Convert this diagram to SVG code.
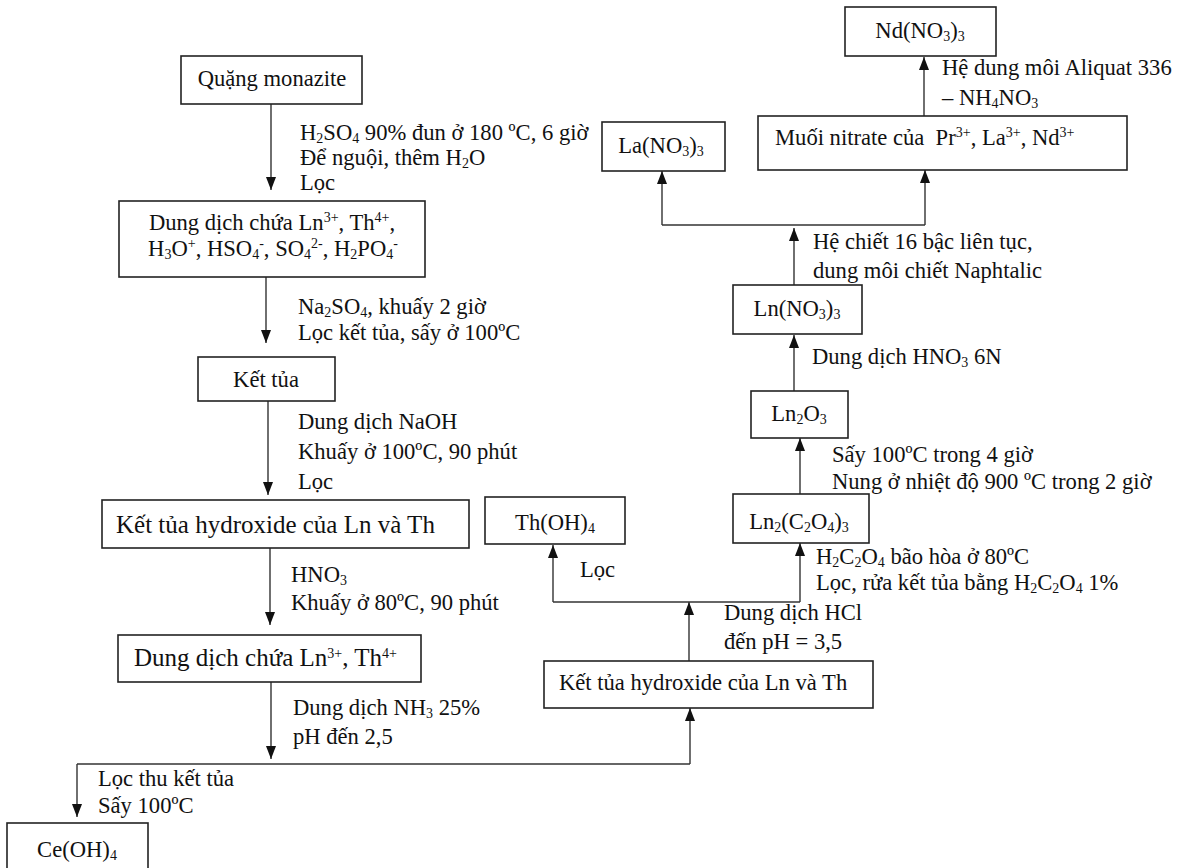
<svg xmlns="http://www.w3.org/2000/svg" width="1183" height="868" viewBox="0 0 1183 868">
<style>
text { font-family: "Liberation Serif", "Times New Roman", serif; font-size: 22.6px; fill: #111; }
.big { font-size: 25px; }
.m { text-anchor: middle; }
.sub { font-size: 14px; baseline-shift: -3px; }
.sup { font-size: 14px; baseline-shift: 8px; }
.box { fill: #fff; stroke: #222; stroke-width: 1.6; }
.ln { fill: none; stroke: #333; stroke-width: 1.4; }
.ar { fill: none; stroke: #333; stroke-width: 1.4; marker-end: url(#ah); }
</style>
<defs>
<marker id="ah" markerWidth="13" markerHeight="10" refX="13" refY="5" orient="auto" markerUnits="userSpaceOnUse">
<path d="M0,0 L13,5 L0,10 z" fill="#111"/>
</marker>
</defs>
<rect width="1183" height="868" fill="#fff"/>

<g id="connectors">
<path class="ar" d="M271 104 V190"/>
<path class="ar" d="M266 277 V343"/>
<path class="ar" d="M268 401 V495"/>
<path class="ar" d="M270 548 V625"/>
<path class="ar" d="M271 682 V759"/>
<path class="ln" d="M77 764 H690"/>
<path class="ar" d="M77 764 V817"/>
<path class="ar" d="M690 764 V708"/>
<path class="ar" d="M689 661 V602"/>
<path class="ln" d="M553 602 H800"/>
<path class="ar" d="M553 602 V545"/>
<path class="ar" d="M800 602 V543"/>
<path class="ar" d="M800 494 V438"/>
<path class="ar" d="M794 391 V335"/>
<path class="ar" d="M794 285 V228"/>
<path class="ln" d="M662 225 H925"/>
<path class="ar" d="M662 225 V171"/>
<path class="ar" d="M925 225 V170"/>
<path class="ar" d="M924 116 V57"/>
</g>

<g id="labels">
<text x="300" y="140">H<tspan class="sub">2</tspan>SO<tspan class="sub">4</tspan> 90% đun ở 180 ºC, 6 giờ</text>
<text x="300" y="165">Để nguội, thêm H<tspan class="sub">2</tspan>O</text>
<text x="300" y="190">Lọc</text>
<text x="298" y="314">Na<tspan class="sub">2</tspan>SO<tspan class="sub">4</tspan>, khuấy 2 giờ</text>
<text x="298" y="340">Lọc kết tủa, sấy ở 100ºC</text>
<text x="298" y="429">Dung dịch NaOH</text>
<text x="298" y="459">Khuấy ở 100ºC, 90 phút</text>
<text x="298" y="489">Lọc</text>
<text x="291" y="582">HNO<tspan class="sub">3</tspan></text>
<text x="291" y="610">Khuấy ở 80ºC, 90 phút</text>
<text x="293" y="715">Dung dịch NH<tspan class="sub">3</tspan> 25%</text>
<text x="293" y="744">pH đến 2,5</text>
<text x="98" y="786">Lọc thu kết tủa</text>
<text x="98" y="813">Sấy 100ºC</text>
<text x="724" y="620">Dung dịch HCl</text>
<text x="724" y="649">đến pH = 3,5</text>
<text x="580" y="577">Lọc</text>
<text x="816" y="564">H<tspan class="sub">2</tspan>C<tspan class="sub">2</tspan>O<tspan class="sub">4</tspan> bão hòa ở 80ºC</text>
<text x="816" y="590">Lọc, rửa kết tủa bằng H<tspan class="sub">2</tspan>C<tspan class="sub">2</tspan>O<tspan class="sub">4</tspan> 1%</text>
<text x="832" y="462">Sấy 100ºC trong 4 giờ</text>
<text x="832" y="489">Nung ở nhiệt độ 900 ºC trong 2 giờ</text>
<text x="812" y="364">Dung dịch HNO<tspan class="sub">3</tspan> 6N</text>
<text x="813" y="249">Hệ chiết 16 bậc liên tục,</text>
<text x="813" y="278">dung môi chiết Naphtalic</text>
<text x="942" y="75">Hệ dung môi Aliquat 336</text>
<text x="942" y="105">– NH<tspan class="sub">4</tspan>NO<tspan class="sub">3</tspan></text>
</g>

<g id="n-quang">
<rect class="box" x="181" y="56" width="181" height="48"/>
<text class="m" x="272" y="86">Quặng monazite</text>
</g>
<g id="n-dd1">
<rect class="box" x="119" y="201" width="306" height="76"/>
<text class="m" x="272" y="230">Dung dịch chứa Ln<tspan class="sup">3+</tspan>, Th<tspan class="sup">4+</tspan>,</text>
<text class="m" x="273" y="256">H<tspan class="sub">3</tspan>O<tspan class="sup">+</tspan>, HSO<tspan class="sub">4</tspan><tspan class="sup">-</tspan>, SO<tspan class="sub">4</tspan><tspan class="sup">2-</tspan>, H<tspan class="sub">2</tspan>PO<tspan class="sub">4</tspan><tspan class="sup">-</tspan></text>
</g>
<g id="n-kettua">
<rect class="box" x="198" y="357" width="137" height="44"/>
<text class="m" x="266" y="387">Kết tủa</text>
</g>
<g id="n-hydroxide1">
<rect class="box" x="102" y="500" width="367" height="48"/>
<text class="big" x="116" y="533">Kết tủa hydroxide của Ln và Th</text>
</g>
<g id="n-dd2">
<rect class="box" x="118" y="635" width="303" height="47"/>
<text class="big" x="134" y="666">Dung dịch chứa Ln<tspan class="sup">3+</tspan>, Th<tspan class="sup">4+</tspan></text>
</g>
<g id="n-ce">
<rect class="box" x="7" y="823" width="141" height="60"/>
<text class="m" x="77" y="857">Ce(OH)<tspan class="sub">4</tspan></text>
</g>
<g id="n-hydroxide2">
<rect class="box" x="544" y="661" width="329" height="47"/>
<text x="559" y="690">Kết tủa hydroxide của Ln và Th</text>
</g>
<g id="n-thoh">
<rect class="box" x="485" y="497" width="140" height="47"/>
<text class="m" x="555" y="530">Th(OH)<tspan class="sub">4</tspan></text>
</g>
<g id="n-oxalate">
<rect class="box" x="733" y="494" width="136" height="49"/>
<text class="m" x="799" y="529">Ln<tspan class="sub">2</tspan>(C<tspan class="sub">2</tspan>O<tspan class="sub">4</tspan>)<tspan class="sub">3</tspan></text>
</g>
<g id="n-ln2o3">
<rect class="box" x="751" y="391" width="97" height="47"/>
<text class="m" x="799" y="421">Ln<tspan class="sub">2</tspan>O<tspan class="sub">3</tspan></text>
</g>
<g id="n-lnno3">
<rect class="box" x="733" y="285" width="129" height="49"/>
<text class="m" x="797" y="316">Ln(NO<tspan class="sub">3</tspan>)<tspan class="sub">3</tspan></text>
</g>
<g id="n-lano3">
<rect class="box" x="602" y="122" width="123" height="49"/>
<text class="m" x="661" y="153">La(NO<tspan class="sub">3</tspan>)<tspan class="sub">3</tspan></text>
</g>
<g id="n-muoi">
<rect class="box" x="758" y="116" width="369" height="54"/>
<text x="775" y="145" xml:space="preserve">Muối nitrate của  Pr<tspan class="sup">3+</tspan>, La<tspan class="sup">3+</tspan>, Nd<tspan class="sup">3+</tspan></text>
</g>
<g id="n-ndno3">
<rect class="box" x="845" y="7" width="151" height="49"/>
<text class="m" x="920" y="38">Nd(NO<tspan class="sub">3</tspan>)<tspan class="sub">3</tspan></text>
</g>
</svg>
